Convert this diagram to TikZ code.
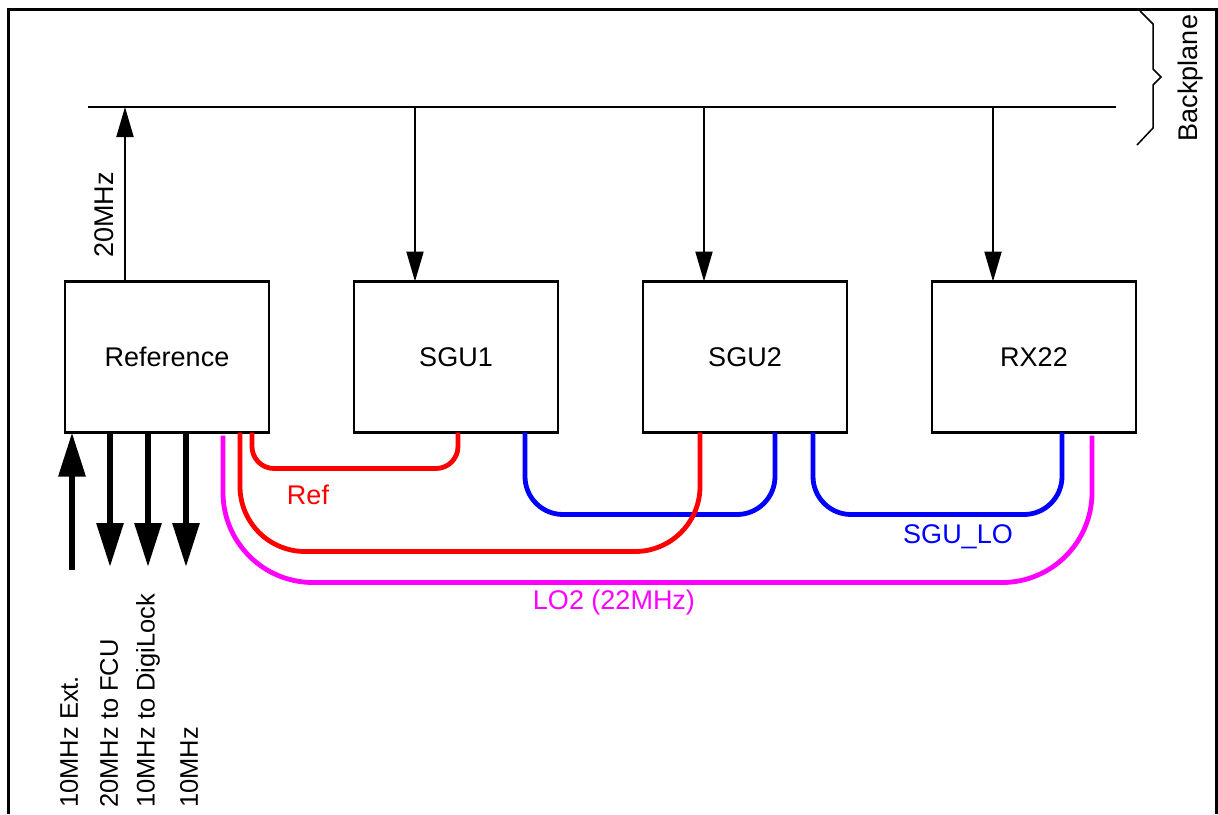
\documentclass[tikz,border=0pt]{standalone}
\usepackage{fontspec}
\setmainfont{Liberation Sans}
\usetikzlibrary{positioning, arrows.meta}

\definecolor{lomag}{RGB}{255,0,255}
\definecolor{refred}{RGB}{255,0,0}
\definecolor{sgublue}{RGB}{0,0,255}

\tikzset{
  unit/.style={draw, line width=2.5pt, minimum width=204pt, minimum height=151pt,
    outer sep=0pt, inner sep=0pt, font=\fontsize{27}{31}\selectfont},
  feed/.style={line width=2pt, -{Triangle[length=30pt,width=17pt]}},
  port/.style={line width=6pt, -{Triangle[length=44pt,width=26pt]}},
  cable/.style={line width=4.8pt},
  lbl/.style={inner sep=0pt, font=\fontsize{27}{31}\selectfont},
  portlbl/.style={lbl, rotate=90, anchor=west, font=\fontsize{25.5}{30}\selectfont},
}

\begin{document}
\begin{tikzpicture}[x=1pt, y=-1pt]

  \useasboundingbox (0,0) rectangle (1218,814);

  % --- Frame and backplane brace ---
  \draw[line width=3pt] (8,814) -- (8,9) -- (1216,9) -- (1216,814);
  \draw[line width=1.5pt]
    (1140,11) -- (1153,24) -- (1153,69) -- (1161,77) -- (1153,85)
    -- (1153,128) -- (1137,145);
  \node[lbl, rotate=90] (bp) at (1191,78) {Backplane};

  % --- Bus ---
  \coordinate (bus-w) at (88,107);
  \coordinate (bus-e) at (1116,107);
  \draw[line width=2pt] (bus-w) -- (bus-e);

  % --- Units ---
  \node[unit] (ref) at (167,357) {Reference};
  \node[unit, right=85pt of ref] (sgu1) {SGU1};
  \node[unit, right=85pt of sgu1] (sgu2) {SGU2};
  \node[unit, right=85pt of sgu2] (rx22) {RX22};

  % --- Bus taps ---
  \path ([xshift=-42pt]ref.north) coordinate (tap-ref);
  \draw[feed] (tap-ref) -- (tap-ref |- bus-w);
  \node[lbl, rotate=90] (f20) at (104,215) {20MHz};
  \foreach \n in {sgu1,sgu2,rx22}{
    \path ([xshift=-41pt]\n.north) coordinate (tap-\n);
    \draw[feed] (tap-\n |- bus-w) -- (tap-\n);
  }

  % --- Reference front panel ---
  \coordinate (ext) at (72,570);
  \draw[port] (ext) -- (ext |- ref.south);
  \foreach \n/\x in {fcu/110, dgl/148, out/186}{
    \coordinate (\n) at (\x,567);
    \draw[port] (\n |- ref.south) -- (\n);
  }
  \node[portlbl] (l-ext) at (69,808) {10MHz Ext.};
  \node[portlbl] (l-fcu) at (109,808) {20MHz to FCU};
  \node[portlbl] (l-dgl) at (148,808) {10MHz to DigiLock};
  \node[portlbl] (l-out) at (189,808) {10MHz};

  % --- SGU_LO cables ---
  \draw[cable, sgublue, rounded corners=38pt]
    ([xshift=69pt]sgu1.south) -- ++(0,82) -| ([xshift=30pt]sgu2.south);
  \draw[cable, sgublue, rounded corners=38pt]
    ([xshift=68pt]sgu2.south) -- ++(0,82) -| ([xshift=28pt]rx22.south);
  \node[lbl, sgublue] (t-lo) at (958,537) {SGU\_LO};

  % --- Ref cables ---
  \draw[cable, refred, rounded corners=22pt]
    ([xshift=85pt]ref.south) -- ++(0,36) -| ([xshift=2pt]sgu1.south);
  \draw[cable, refred, rounded corners=65pt]
    ([xshift=73pt]ref.south) -- ++(0,119) -| ([xshift=-45pt]sgu2.south);
  \node[lbl, refred] (t-ref) at (308,495) {Ref};

  % --- LO2 cable ---
  \draw[cable, lomag, rounded corners=90pt]
    ([xshift=56pt,yshift=-3pt]ref.south) -- ++(0,147)
    -| ([xshift=58pt,yshift=-3pt]rx22.south);
  \node[lbl, lomag] (t-lo2) at (614,603) {LO2 (22MHz)};

\end{tikzpicture}
\end{document}
